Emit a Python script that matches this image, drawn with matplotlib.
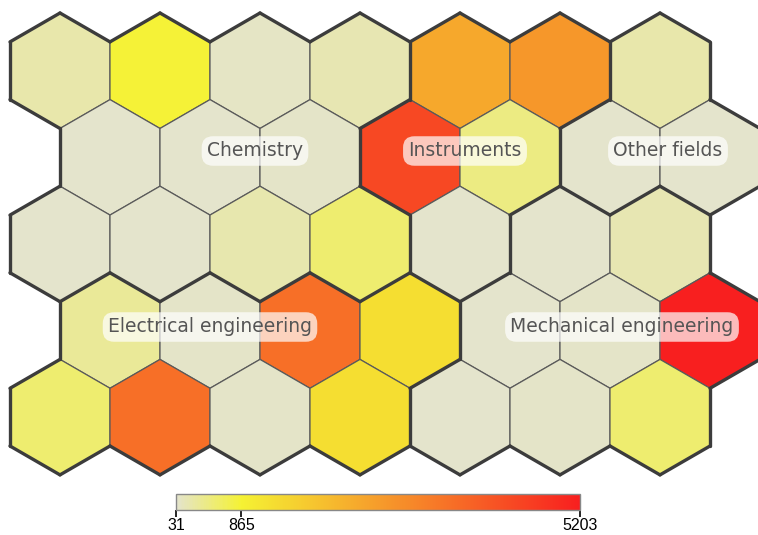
import numpy as np
import matplotlib.pyplot as plt
from matplotlib.colors import LinearSegmentedColormap, Normalize
from matplotlib.patches import RegularPolygon
from matplotlib.collections import LineCollection
from matplotlib.cm import ScalarMappable

# cell values, one list per row of the hex grid (odd rows shifted right)
row0 = [231, 840, 73, 173, 2383, 2730, 231]
row1 = [40, 35, 55, 4335, 448, 50, 42]
row2 = [38, 45, 200, 540, 48, 40, 180]
row3 = [330, 52, 3556, 1277, 31, 60, 5203]
row4 = [540, 3556, 58, 1277, 47, 53, 540]
values = [row0, row1, row2, row3, row4]

# field group of each cell
groups = [
    ["Chemistry"] * 4 + ["Instruments"] * 2 + ["Other fields"],
    ["Chemistry"] * 3 + ["Instruments"] * 2 + ["Other fields"] * 2,
    ["Chemistry"] * 4 + ["Instruments"] + ["Mechanical engineering"] * 2,
    ["Electrical engineering"] * 4 + ["Mechanical engineering"] * 3,
    ["Electrical engineering"] * 4 + ["Mechanical engineering"] * 3,
]

label_names = ["Chemistry", "Instruments", "Other fields",
               "Electrical engineering", "Mechanical engineering"]
label_pos = [(255, 151), (465, 151), (668, 151), (210, 327), (622, 327)]

tick_values = [31, 865, 5203]
vmin, vmax = 31, 5203

cmap = LinearSegmentedColormap.from_list(
    "field", [(0.0, "#e4e4cc"), ((865 - vmin) / (vmax - vmin), "#f5f233"), (1.0, "#f81f1f")])
norm = Normalize(vmin, vmax)

W, H = 758, 535
fig = plt.figure(figsize=(W / 100, H / 100), dpi=100)
ax = fig.add_axes([0, 0, 1, 1])
ax.set_xlim(0, W)
ax.set_ylim(H, 0)
ax.axis("off")

R = 100 / np.sqrt(3)
x0, y0, dx, dy = 60, 13 + R, 100, 1.5 * R

edges = {}
for r, row in enumerate(values):
    for c, v in enumerate(row):
        cx = x0 + c * dx + (dx / 2 if r % 2 else 0)
        cy = y0 + r * dy
        ax.add_patch(RegularPolygon((cx, cy), 6, radius=R, facecolor=cmap(norm(v)),
                                    edgecolor="#5a5a5a", linewidth=0.9))
        ang = np.deg2rad(90 + 60 * np.arange(7))
        vx, vy = cx + R * np.cos(ang), cy + R * np.sin(ang)
        for k in range(6):
            key = (round((vx[k] + vx[k + 1]) / 2, 2), round((vy[k] + vy[k + 1]) / 2, 2))
            seg = [(vx[k], vy[k]), (vx[k + 1], vy[k + 1])]
            edges.setdefault(key, [seg, []])[1].append(groups[r][c])

# thick lines between different groups and along the outside
thick = [seg for seg, g in edges.values() if len(g) == 1 or g[0] != g[1]]
ax.add_collection(LineCollection(thick, colors="#3c3c3c", linewidths=2.4, capstyle="round"))

for name, (tx, ty) in zip(label_names, label_pos):
    ax.text(tx, ty, name, ha="center", va="center", fontsize=13.5, color="#555555",
            bbox=dict(boxstyle="round,pad=0.28,rounding_size=0.6", fc="white", ec="none", alpha=0.7))

cax = fig.add_axes([176 / W, 1 - 510 / H, 404 / W, 16 / H])
cb = fig.colorbar(ScalarMappable(norm=norm, cmap=cmap), cax=cax, orientation="horizontal",
                  ticks=tick_values)
cb.outline.set_edgecolor("#888888")
cb.outline.set_linewidth(1)
cax.tick_params(length=5, width=1.2, color="black", labelsize=11.5, pad=1)
for t in cax.get_xticklabels():
    t.set_fontfamily("Liberation Sans")

fig.savefig("out.png", dpi=100)
